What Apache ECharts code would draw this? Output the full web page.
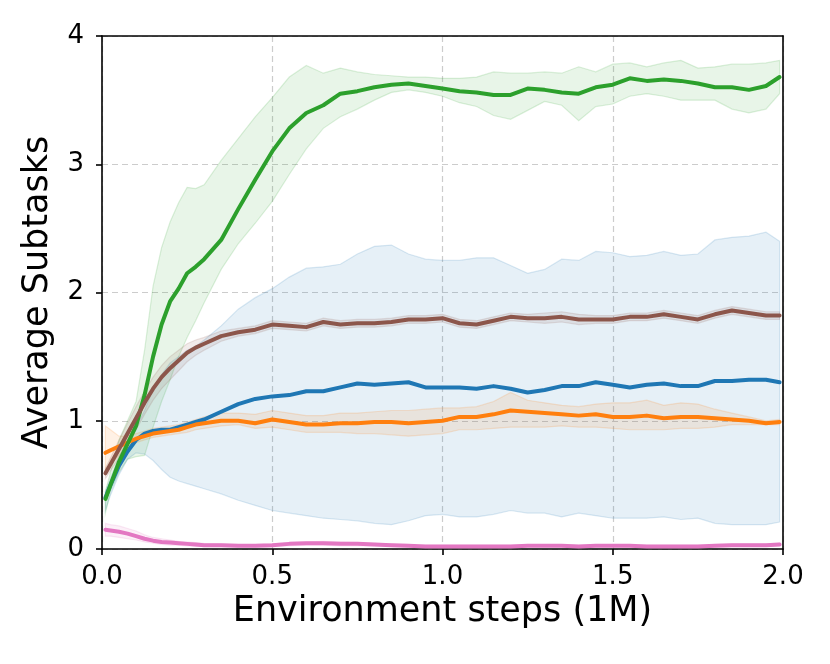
<!DOCTYPE html>
<html>
<head>
<meta charset="utf-8">
<script src="https://cdn.jsdelivr.net/npm/echarts@6/dist/echarts.min.js"></script>
<style>
html,body{margin:0;padding:0;background:#fff;}
#chart{width:830px;height:664px;}
</style>
</head>
<body>
<div id="chart"></div>
<script>
// x positions (environment steps, millions)
const steps = [0.01,0.025,0.05,0.075,0.1,0.125,0.15,0.175,0.2,0.225,0.25,0.275,0.3,0.35,0.4,0.45,0.5,0.55,0.6,0.65,0.7,0.75,0.8,0.85,0.9,0.95,1.0,1.05,1.1,1.15,1.2,1.25,1.3,1.35,1.4,1.45,1.5,1.55,1.6,1.65,1.7,1.75,1.8,1.85,1.9,1.95,1.99];

// green
const greenMean  = [0.39,0.50,0.68,0.82,0.96,1.20,1.50,1.75,1.93,2.03,2.15,2.20,2.26,2.41,2.65,2.88,3.10,3.28,3.40,3.46,3.55,3.57,3.60,3.62,3.63,3.61,3.59,3.57,3.56,3.54,3.54,3.59,3.58,3.56,3.55,3.60,3.62,3.67,3.65,3.66,3.65,3.63,3.60,3.60,3.58,3.61,3.68];
const greenUpper = [0.45,0.60,0.85,1.00,1.15,1.55,2.05,2.35,2.55,2.70,2.82,2.81,2.84,3.03,3.20,3.37,3.52,3.68,3.77,3.71,3.75,3.72,3.70,3.69,3.68,3.68,3.67,3.67,3.68,3.72,3.71,3.71,3.72,3.71,3.76,3.72,3.78,3.79,3.76,3.79,3.81,3.75,3.76,3.78,3.78,3.79,3.81];
const greenLower = [0.28,0.45,0.60,0.70,0.72,0.73,0.95,1.15,1.32,1.50,1.65,1.78,1.92,2.18,2.38,2.54,2.71,2.92,3.12,3.28,3.37,3.43,3.50,3.56,3.58,3.56,3.53,3.48,3.45,3.38,3.35,3.42,3.49,3.46,3.34,3.45,3.47,3.53,3.55,3.53,3.50,3.50,3.50,3.43,3.40,3.43,3.55];

// blue
const blueMean  = [0.40,0.50,0.65,0.76,0.85,0.90,0.92,0.93,0.93,0.95,0.97,0.99,1.01,1.07,1.13,1.17,1.19,1.20,1.23,1.23,1.26,1.29,1.28,1.29,1.30,1.26,1.26,1.26,1.25,1.27,1.25,1.22,1.24,1.27,1.27,1.30,1.28,1.26,1.28,1.29,1.27,1.27,1.31,1.31,1.32,1.32,1.30];
const blueUpper = [0.45,0.55,0.72,0.85,0.95,1.08,1.25,1.36,1.45,1.50,1.55,1.58,1.63,1.74,1.87,1.96,2.03,2.12,2.19,2.20,2.22,2.30,2.36,2.37,2.30,2.26,2.25,2.25,2.27,2.27,2.21,2.15,2.18,2.26,2.25,2.32,2.31,2.28,2.29,2.32,2.29,2.30,2.41,2.43,2.44,2.47,2.40];
const blueLower = [0.30,0.42,0.58,0.70,0.75,0.74,0.69,0.62,0.56,0.53,0.51,0.49,0.47,0.43,0.38,0.34,0.30,0.28,0.26,0.24,0.23,0.22,0.20,0.19,0.22,0.26,0.27,0.25,0.25,0.27,0.30,0.28,0.28,0.25,0.28,0.26,0.24,0.24,0.24,0.25,0.23,0.24,0.20,0.19,0.19,0.19,0.21];

// brown
const brownMean  = [0.59,0.66,0.78,0.90,1.02,1.14,1.25,1.34,1.41,1.47,1.53,1.57,1.60,1.66,1.69,1.71,1.75,1.74,1.73,1.77,1.75,1.76,1.76,1.77,1.79,1.79,1.80,1.76,1.75,1.78,1.81,1.80,1.80,1.81,1.79,1.79,1.79,1.81,1.81,1.83,1.81,1.79,1.83,1.86,1.84,1.82,1.82];
const brownUpper = [0.63,0.71,0.85,0.98,1.11,1.23,1.34,1.43,1.50,1.55,1.60,1.63,1.65,1.70,1.72,1.74,1.78,1.77,1.76,1.80,1.78,1.79,1.79,1.80,1.82,1.82,1.83,1.79,1.78,1.81,1.84,1.83,1.84,1.85,1.83,1.82,1.82,1.84,1.84,1.86,1.84,1.82,1.86,1.89,1.87,1.85,1.85];
const brownLower = [0.55,0.61,0.71,0.82,0.93,1.05,1.16,1.25,1.32,1.39,1.46,1.51,1.55,1.62,1.66,1.68,1.72,1.71,1.70,1.74,1.72,1.73,1.73,1.74,1.76,1.76,1.77,1.73,1.72,1.75,1.78,1.77,1.76,1.77,1.75,1.76,1.76,1.78,1.78,1.80,1.78,1.76,1.80,1.83,1.81,1.79,1.79];

// orange
const orangeMean  = [0.75,0.77,0.80,0.83,0.86,0.88,0.90,0.91,0.92,0.93,0.95,0.97,0.98,1.00,1.00,0.98,1.01,0.99,0.97,0.97,0.98,0.98,0.99,0.99,0.98,0.99,1.00,1.03,1.03,1.05,1.08,1.07,1.06,1.05,1.04,1.05,1.03,1.03,1.04,1.02,1.03,1.03,1.02,1.01,1.00,0.98,0.99];
const orangeUpper = [0.96,0.93,0.88,0.88,0.90,0.92,0.94,0.95,0.96,0.97,0.99,1.01,1.03,1.06,1.06,1.05,1.08,1.06,1.04,1.04,1.06,1.06,1.07,1.08,1.08,1.09,1.10,1.10,1.11,1.15,1.22,1.16,1.14,1.12,1.11,1.13,1.14,1.14,1.16,1.12,1.14,1.13,1.09,1.06,1.03,1.00,1.01];
const orangeLower = [0.62,0.66,0.73,0.79,0.83,0.85,0.87,0.88,0.89,0.90,0.91,0.93,0.94,0.96,0.97,0.94,0.95,0.93,0.91,0.91,0.91,0.90,0.90,0.89,0.88,0.89,0.90,0.93,0.93,0.94,0.95,0.95,0.95,0.96,0.95,0.95,0.94,0.93,0.93,0.93,0.94,0.94,0.95,0.97,0.97,0.97,0.97];

// pink
const pinkMean  = [0.15,0.145,0.135,0.12,0.10,0.08,0.065,0.055,0.05,0.045,0.04,0.035,0.03,0.03,0.025,0.025,0.03,0.04,0.045,0.045,0.04,0.04,0.035,0.03,0.025,0.02,0.02,0.02,0.02,0.02,0.02,0.025,0.025,0.025,0.02,0.025,0.025,0.025,0.02,0.02,0.02,0.02,0.025,0.03,0.03,0.03,0.035];
const pinkUpper = [0.20,0.19,0.18,0.16,0.14,0.11,0.09,0.08,0.07,0.06,0.055,0.05,0.045,0.04,0.035,0.035,0.04,0.05,0.055,0.06,0.055,0.05,0.045,0.04,0.035,0.03,0.03,0.03,0.03,0.03,0.03,0.035,0.035,0.035,0.03,0.035,0.035,0.035,0.03,0.03,0.03,0.03,0.035,0.04,0.04,0.04,0.045];
const pinkLower = [0.10,0.10,0.09,0.08,0.07,0.055,0.045,0.035,0.03,0.03,0.025,0.02,0.02,0.02,0.015,0.015,0.02,0.025,0.03,0.03,0.025,0.025,0.025,0.02,0.015,0.01,0.01,0.01,0.01,0.01,0.01,0.015,0.015,0.015,0.01,0.015,0.015,0.015,0.01,0.01,0.01,0.01,0.015,0.02,0.02,0.02,0.025];

const xTicks = [0, 0.5, 1.0, 1.5, 2.0];
const yTicks = [0, 1, 2, 3, 4];

const groups = [
  {name:'blue',   rgb:[31,119,180],  mean:blueMean,   up:blueUpper,   lo:blueLower},
  {name:'orange', rgb:[255,127,14],  mean:orangeMean, up:orangeUpper, lo:orangeLower},
  {name:'green',  rgb:[44,160,44],   mean:greenMean,  up:greenUpper,  lo:greenLower},
  {name:'brown',  rgb:[140,86,75],   mean:brownMean,  up:brownUpper,  lo:brownLower},
  {name:'pink',   rgb:[227,119,194], mean:pinkMean,   up:pinkUpper,   lo:pinkLower}
];
const rgba = (c,a) => `rgba(${c[0]},${c[1]},${c[2]},${a})`;
const pairs = arr => steps.map((x,i) => [x, arr[i]]);

const series = [];
// shaded bands: polygon through upper values then lower values in reverse, placed via api.coord
groups.forEach(g => {
  series.push({
    type:'custom', name:g.name+'_band', silent:true, z:1,
    data:[[0]],
    renderItem:function(params, api){
      const pts = [];
      for (let i=0;i<steps.length;i++) pts.push(api.coord([steps[i], g.up[i]]));
      for (let i=steps.length-1;i>=0;i--) pts.push(api.coord([steps[i], g.lo[i]]));
      return {
        type:'polygon',
        shape:{points:pts},
        style:{fill:rgba(g.rgb,0.11), stroke:rgba(g.rgb,0.16), lineWidth:1.2}
      };
    }
  });
});
groups.forEach(g => {
  series.push({
    type:'line', name:g.name, data:pairs(g.mean),
    symbol:'none', z:3,
    lineStyle:{color:rgba(g.rgb,1), width:4, cap:'round', join:'round'}
  });
});

const chart = echarts.init(document.getElementById('chart'), null, {renderer:'canvas'});
chart.setOption({
  backgroundColor:'#ffffff',
  animation:false,
  textStyle:{fontFamily:'DejaVu Sans'},
  grid:{left:102, right:47, top:36, bottom:115},
  xAxis:[{
    type:'value', min:xTicks[0], max:xTicks[xTicks.length-1], interval:0.5,
    name:'Environment steps (1M)', nameLocation:'middle', nameGap:44,
    nameTextStyle:{fontSize:35, color:'#000', fontFamily:'DejaVu Sans'},
    axisLine:{show:true, onZero:false, lineStyle:{color:'#000', width:1.6}},
    axisTick:{show:true, length:6, lineStyle:{color:'#000', width:1.6}},
    axisLabel:{fontSize:26, color:'#000', margin:15, formatter:v=>v.toFixed(1)},
    splitLine:{show:true, lineStyle:{color:'#cccccc', width:1.2, type:[6,4]}}
  },{
    type:'value', position:'top', min:xTicks[0], max:xTicks[xTicks.length-1],
    axisLine:{show:true, onZero:false, lineStyle:{color:'#000', width:1.6}},
    axisTick:{show:false}, axisLabel:{show:false}, splitLine:{show:false}
  }],
  yAxis:[{
    type:'value', min:yTicks[0], max:yTicks[yTicks.length-1], interval:1,
    name:'Average Subtasks', nameLocation:'middle', nameGap:47, nameRotate:90,
    nameTextStyle:{fontSize:35, color:'#000', fontFamily:'DejaVu Sans'},
    axisLine:{show:true, onZero:false, lineStyle:{color:'#000', width:1.6}},
    axisTick:{show:true, length:6, lineStyle:{color:'#000', width:1.6}},
    axisLabel:{fontSize:26, color:'#000', margin:18},
    splitLine:{show:true, lineStyle:{color:'#cccccc', width:1.2, type:[6,4]}}
  },{
    type:'value', position:'right', min:yTicks[0], max:yTicks[yTicks.length-1],
    axisLine:{show:true, onZero:false, lineStyle:{color:'#000', width:1.6}},
    axisTick:{show:false}, axisLabel:{show:false}, splitLine:{show:false}
  }],
  series:series
});
</script>
</body>
</html>
